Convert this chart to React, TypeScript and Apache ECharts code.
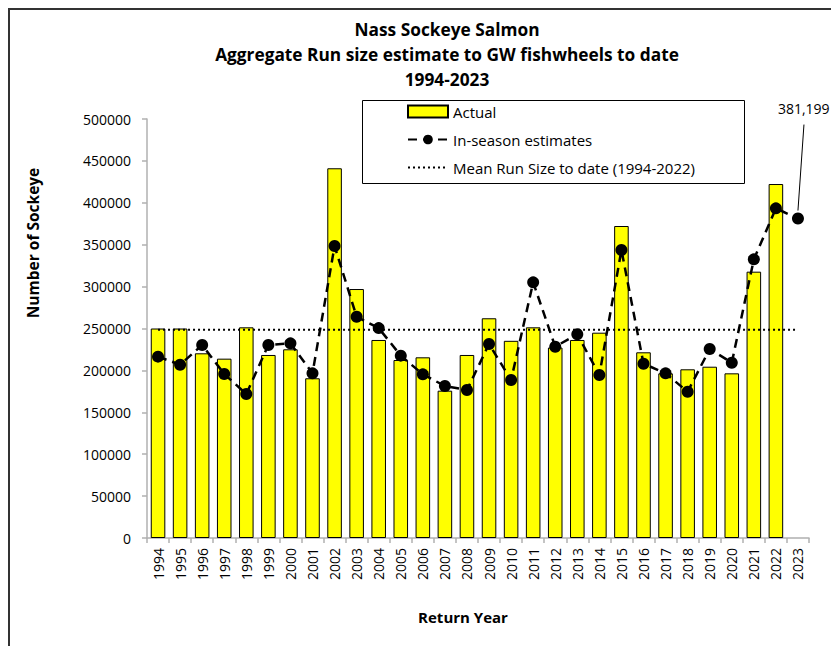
import React, { useEffect, useRef } from "react";
import * as echarts from "echarts";

const years = [
  "1994", "1995", "1996", "1997", "1998", "1999", "2000", "2001", "2002", "2003",
  "2004", "2005", "2006", "2007", "2008", "2009", "2010", "2011", "2012", "2013",
  "2014", "2015", "2016", "2017", "2018", "2019", "2020", "2021", "2022", "2023",
];

const actual: (number | null)[] = [
  250000, 250000, 220400, 214000, 251400, 218400, 225200, 190600, 441200, 297100,
  236300, 212400, 215600, 175800, 218400, 262200, 235300, 251400, 227300, 236300,
  245000, 372300, 221600, 196500, 201300, 204400, 196500, 317800, 422400, null,
];

const inSeason: number[] = [
  216400, 206800, 230300, 195700, 171800, 230300, 232300, 196500, 348400, 264100,
  250500, 217600, 195300, 181400, 176600, 231500, 188500, 305100, 228300, 243100,
  194500, 343700, 208000, 196500, 174600, 225500, 209200, 332500, 393400, 381199,
];

const titleLines = [
  "Nass Sockeye Salmon",
  "Aggregate Run size estimate to GW fishwheels to date",
  "1994-2023",
];

const FONT = "'Open Sans', 'Liberation Sans', sans-serif";

function baseGraphics() {
  return [
    {
      type: "rect",
      shape: { x: 9, y: 9, width: 900, height: 700 },
      style: { fill: "none", stroke: "#333", lineWidth: 2 },
      silent: true,
    },
    {
      type: "rect",
      shape: { x: 362.5, y: 100.5, width: 382, height: 83 },
      style: { fill: "none", stroke: "#000", lineWidth: 1 },
      silent: true,
    },
    {
      type: "text",
      x: 33,
      y: 243,
      rotation: Math.PI / 2,
      style: {
        text: "Number of Sockeye",
        fontFamily: FONT,
        fontSize: 15.5,
        fontWeight: "bold",
        fill: "#000",
        align: "center",
        verticalAlign: "middle",
      },
    },
    {
      type: "text",
      x: 463,
      y: 617,
      style: {
        text: "Return Year",
        fontFamily: FONT,
        fontSize: 15,
        fontWeight: "bold",
        fill: "#000",
        align: "center",
        verticalAlign: "middle",
      },
    },
  ];
}

export default function App() {
  const ref = useRef<HTMLDivElement>(null);

  useEffect(() => {
    if (!ref.current) return;
    const chart = echarts.init(ref.current, undefined, { renderer: "svg" });

    const valid = actual.filter((v): v is number => v !== null);
    const mean = valid.reduce((a, b) => a + b, 0) / valid.length;
    const meanData = years.map(() => mean);

    chart.setOption({
      animation: false,
      backgroundColor: "#ffffff",
      textStyle: { fontFamily: FONT, color: "#000" },
      title: {
        text: titleLines.join("\n"),
        left: 442,
        textAlign: "center",
        top: 12,
        textStyle: {
          fontFamily: FONT,
          fontSize: 17.3,
          fontWeight: "bold",
          color: "#000",
          lineHeight: 25,
        },
      },
      legend: {
        orient: "vertical",
        left: 407,
        top: 104,
        padding: 0,
        itemGap: 13,
        itemWidth: 40,
        itemHeight: 12,
        textStyle: { fontFamily: FONT, fontSize: 15, color: "#000" },
        data: [
          { name: "Actual", icon: "rect" },
          { name: "In-season estimates" },
          { name: "Mean Run Size to date (1994-2022)" },
        ],
      },
      grid: { left: 147, right: 22, top: 119, bottom: 108, containLabel: false },
      xAxis: {
        type: "category",
        data: years,
        boundaryGap: true,
        axisLine: { show: true, lineStyle: { color: "#b0b0b0", width: 1.5 } },
        axisTick: { show: true, length: 5, lineStyle: { color: "#b0b0b0", width: 1.5 } },
        axisLabel: {
          rotate: 90,
          interval: 0,
          margin: 10,
          fontSize: 14,
          color: "#000",
          fontFamily: FONT,
        },
        splitLine: { show: false },
      },
      yAxis: {
        type: "value",
        min: 0,
        max: 500000,
        interval: 50000,
        axisLine: { show: true, lineStyle: { color: "#b0b0b0", width: 1.5 } },
        axisTick: { show: true, length: 5, lineStyle: { color: "#b0b0b0", width: 1.5 } },
        axisLabel: {
          margin: 16,
          fontSize: 14,
          color: "#000",
          fontFamily: FONT,
          formatter: (v: number) => String(v),
        },
        splitLine: { show: false },
      },
      series: [
        {
          name: "Actual",
          type: "bar",
          data: actual,
          barWidth: "66%",
          itemStyle: { color: "#ffff00", borderColor: "#000", borderWidth: 1 },
          z: 1,
        },
        {
          name: "In-season estimates",
          type: "line",
          data: inSeason,
          symbol: "circle",
          symbolSize: 12,
          showSymbol: true,
          itemStyle: { color: "#000" },
          lineStyle: { color: "#000", width: 2.5, type: [9, 6] },
          z: 3,
        },
        {
          name: "Mean Run Size to date (1994-2022)",
          type: "line",
          data: meanData,
          symbol: "none",
          showSymbol: false,
          itemStyle: { color: "rgba(0,0,0,0)" },
          lineStyle: { color: "#000", width: 2, type: [2, 3] },
          z: 2,
        },
      ],
      graphic: baseGraphics(),
    });

    const last = years.length - 1;
    const p = chart.convertToPixel({ seriesIndex: 1 }, [years[last], inSeason[last]]) as number[];
    if (p && isFinite(p[0])) {
      chart.setOption(
        {
          graphic: [
            ...baseGraphics(),
            {
              type: "line",
              shape: { x1: p[0], y1: p[1] - 8, x2: p[0] + 6, y2: p[1] - 94 },
              style: { stroke: "#000", lineWidth: 1 },
              silent: true,
            },
            {
              type: "text",
              x: p[0] - 20,
              y: p[1] - 110,
              style: {
                text: inSeason[last].toLocaleString("en-US"),
                fontFamily: FONT,
                fontSize: 14,
                fill: "#000",
                align: "left",
                verticalAlign: "middle",
              },
            },
          ],
        },
        { replaceMerge: ["graphic"] }
      );
    }

    return () => chart.dispose();
  }, []);

  return (
    <div
      ref={ref}
      style={{ position: "absolute", left: 0, top: 0, width: 831, height: 646 }}
    />
  );
}
